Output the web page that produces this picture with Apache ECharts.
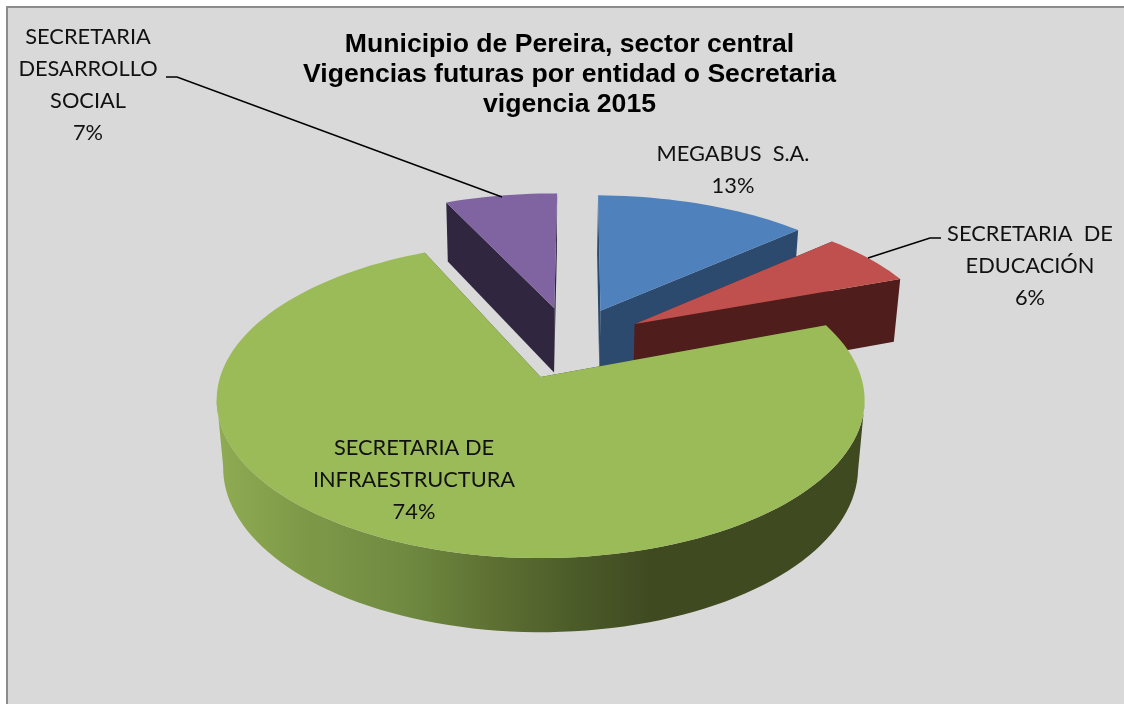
<!DOCTYPE html>
<html>
<head>
<meta charset="utf-8">
<style>html,body{margin:0;padding:0;background:#fff;overflow:hidden}#c{width:1124px;height:704px}</style>
<script src="https://cdn.jsdelivr.net/npm/echarts@6/dist/echarts.min.js"></script>
</head>
<body>
<div id="c"></div>
<script>
// Data (clockwise, from the first slice angle)
const categories = ['MEGABUS  S.A.', 'SECRETARIA  DE\nEDUCACIÓN', 'SECRETARIA DE\nINFRAESTRUCTURA', 'SECRETARIA\nDESARROLLO\nSOCIAL'];
const values = [13, 6, 74, 7];
const titleText = 'Municipio de Pereira, sector central\nVigencias futuras por entidad o Secretaria\nvigencia 2015';

// Styles
const topColors = ['#4F81BD', '#C0504D', '#9BBB59', '#8064A2'];
const sideColors = ['#2C4A6E', '#4F1E1C', null, '#31263F'];
const greenSide = {
  type: 'linear', x: 0, y: 0, x2: 1, y2: 0,
  colorStops: [
    {offset: 0, color: '#8FAB52'}, {offset: 0.13, color: '#7E9A48'}, {offset: 0.29, color: '#708A41'},
    {offset: 0.45, color: '#5A6C30'}, {offset: 0.55, color: '#4C5C29'}, {offset: 0.67, color: '#3F4A21'},
    {offset: 1, color: '#3F4A21'}
  ]
};
const labelLayout = [
  {x: 733, y: 169.5},
  {x: 1030, y: 265.5},
  {x: 414, y: 480},
  {x: 88, y: 85}
];
const leaders = [
  null,
  [[868, 258], [930, 238], [941, 238]],
  null,
  [[166, 77], [177, 77], [502, 197]]
];
const paintOrder = [3, 0, 1, 2];
const sliceRadiusX = [0.99, 0.99, 1, 0.97];
const sliceRadiusY = [0.96, 0.96, 1, 0.96];

// 3-D pie projection
const startAngle = 1.0, explode = 0.25, shift = [0.098, 0.23];
const cx = 540, cy = 377, A = 320.5, B = 154.6, p = 0.1455, q = 0.02, D = 68.4;
const rad = Math.PI / 180;
const total = values.reduce((a, b) => a + b, 0);

function proj(X, Y, low) {
  const w = 1 + p * Y + (low ? q : 0);
  return [cx + A * X / w, cy - (B * Y - (low ? D : 0)) / w];
}
function slice(i) {
  let before = 0;
  for (let k = 0; k < i; k++) before += values[k];
  const a0 = startAngle + before / total * 360, a1 = a0 + values[i] / total * 360;
  const mid = (a0 + a1) / 2 * rad;
  const c = [shift[0] + explode * Math.sin(mid), shift[1] + explode * Math.cos(mid)];
  const pts = [];
  const n = Math.max(4, Math.ceil((a1 - a0) / 2));
  for (let j = 0; j <= n; j++) {
    const t = (a0 + (a1 - a0) * j / n) * rad;
    pts.push([c[0] + sliceRadiusX[i] * Math.sin(t), c[1] + sliceRadiusY[i] * Math.cos(t)]);
  }
  return {c, pts};
}

function renderItem(params, api) {
  const i = api.value(0);
  const s = slice(i);
  const topArc = s.pts.map(v => proj(v[0], v[1], false));
  const lowArc = s.pts.map(v => proj(v[0], v[1], true));
  const cT = proj(s.c[0], s.c[1], false), cL = proj(s.c[0], s.c[1], true);
  const side = sideColors[i] || greenSide;
  const solid = sideColors[i] || '#3F4A21';
  const poly = (points, fill) => ({type: 'polygon', shape: {points}, style: {fill, stroke: null}});
  const children = [
    poly([cT, topArc[0], lowArc[0], cL], solid),
    poly([cT, topArc[topArc.length - 1], lowArc[lowArc.length - 1], cL], solid)
  ];
  // outer wall: only the front-facing stretch of the rim (screen x falling as the angle grows)
  let from = -1, to = -1;
  for (let j = 1; j < topArc.length; j++) {
    if (topArc[j][0] < topArc[j - 1][0]) {
      if (from < 0) from = j - 1;
      to = j;
    }
  }
  if (from >= 0) {
    children.push(poly(topArc.slice(from, to + 1).concat(lowArc.slice(from, to + 1).reverse()), side));
  }
  children.push(poly([cT].concat(topArc), topColors[i]));
  if (leaders[i]) {
    children.push({type: 'polyline', shape: {points: leaders[i]}, style: {stroke: '#000', lineWidth: 1.6, fill: null}});
  }
  children.push({
    type: 'text',
    style: {
      text: categories[i] + '\n' + values[i] + '%',
      x: labelLayout[i].x, y: labelLayout[i].y,
      fill: '#111', fontSize: 21.8, fontFamily: 'Lato, "Open Sans", sans-serif',
      align: 'center', verticalAlign: 'middle', lineHeight: 32
    }
  });
  return {type: 'group', children};
}

const chart = echarts.init(document.getElementById('c'), null, {renderer: 'canvas'});
chart.setOption({
  animation: false,
  backgroundColor: '#ffffff',
  title: {
    text: titleText,
    left: 564.5, top: 25, textAlign: 'center',
    textStyle: {fontFamily: '"Liberation Sans", Arial, sans-serif', fontSize: 26.6, fontWeight: 'bold', color: '#000', lineHeight: 30}
  },
  graphic: [{
    type: 'rect', z: -10, silent: true,
    shape: {x: 7, y: 7, width: 1130, height: 710},
    style: {fill: '#D9D9D9', stroke: '#8C8C8C', lineWidth: 2}
  }],
  series: [{
    type: 'custom',
    coordinateSystem: 'none',
    silent: true,
    renderItem,
    data: paintOrder.map(i => [i, values[i]])
  }]
});
</script>
</body>
</html>
